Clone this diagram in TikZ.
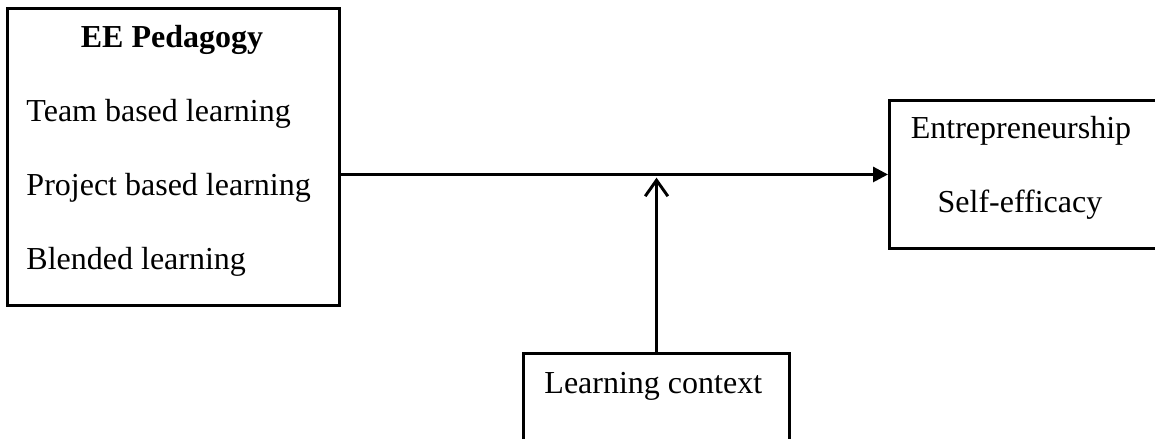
\documentclass[tikz,border=0pt]{standalone}
\usepackage{fontspec}
\setmainfont{Liberation Serif}
\usetikzlibrary{arrows.meta,positioning}
\tikzset{
    model/.style={x=0.375pt, y=-0.375pt, line width=1.1pt,
                     font=\fontsize{12pt}{14pt}\selectfont},
    block/.style={draw, rectangle, inner sep=0pt, anchor=north west},
    item/.style={inner sep=0pt, anchor=base west},
    label/.style={inner sep=0pt, anchor=base},
    }
\begin{document}
\begin{tikzpicture}[model]
            \useasboundingbox (0,0) rectangle (1155,438);
            \node[block, minimum width=124.5pt, minimum height=111.4pt] (pedagogy) at (6,7) {};
            \node[block, minimum width=101.5pt, minimum height=55.5pt] (efficacy) at (888,99) {};
            \node[block, minimum width=99.8pt, minimum height=34.5pt] (context) at (522,352) {};

            \node[label, font=\fontsize{12pt}{14pt}\selectfont\bfseries] (title) at (172,47) {EE Pedagogy};
            \node[item] (team) at (25,121) {Team based learning};
            \node[item] (project) at (25,195) {Project based learning};
            \node[item] (blended) at (25,269) {Blended learning};

            \node[label] (entre) at (1021,138) {Entrepreneurship};
            \node[label] (self) at (1020,212) {Self-efficacy};

            \node[item] (learn) at (543,393) {Learning context};

            \draw[-{Triangle[length=5.6pt,width=5.6pt]}] (pedagogy.east |- efficacy.west) -- (efficacy.west);
            \draw[-{Straight Barb[length=6pt,width=8.5pt]}, shorten >=1.2pt] (context.north) -- (context.north |- efficacy.west);
        \end{tikzpicture}
\end{document}
